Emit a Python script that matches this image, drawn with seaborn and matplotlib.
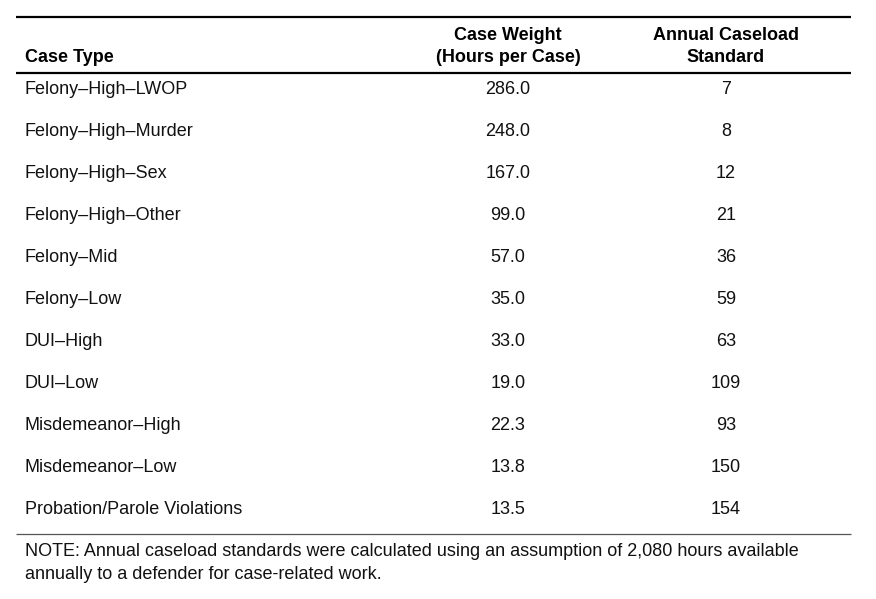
import matplotlib
matplotlib.use('Agg')
import matplotlib.pyplot as plt
import seaborn as sns

case_types = ['Felony–High–LWOP', 'Felony–High–Murder', 'Felony–High–Sex',
              'Felony–High–Other', 'Felony–Mid', 'Felony–Low', 'DUI–High',
              'DUI–Low', 'Misdemeanor–High', 'Misdemeanor–Low',
              'Probation/Parole Violations']
case_weights = [286.0, 248.0, 167.0, 99.0, 57.0, 35.0, 33.0, 19.0, 22.3, 13.8, 13.5]
caseload_standards = [7, 8, 12, 21, 36, 59, 63, 109, 93, 150, 154]
headers = ['Case Type', 'Case Weight\n(Hours per Case)', 'Annual Caseload\nStandard']
note = ('NOTE: Annual caseload standards were calculated using an assumption of 2,080 hours available\n'
        'annually to a defender for case-related work.')

sns.set_theme(style='white')
plt.rcParams['font.family'] = ['Liberation Sans', 'DejaVu Sans']
plt.rcParams['text.color'] = 'black'

fig = plt.figure(figsize=(8.76, 5.99), dpi=100)
ax = fig.add_axes([0, 0, 1, 1])
ax.set_xlim(0, 876)
ax.set_ylim(599, 0)
ax.axis('off')

fs = 13
x_type, x_weight, x_std = 25, 508, 726
line_x0, line_x1 = 16, 851

# rules
ax.plot([line_x0, line_x1], [17, 17], color='black', lw=1.6, solid_capstyle='butt')
ax.plot([line_x0, line_x1], [73, 73], color='black', lw=1.6, solid_capstyle='butt')
ax.plot([line_x0, line_x1], [534, 534], color='#555555', lw=0.9, solid_capstyle='butt')

# header
ax.text(x_type, 62, headers[0], ha='left', va='baseline', fontsize=fs, fontweight='bold')
ax.text(x_weight, 62, headers[1], ha='center', va='baseline', fontsize=fs,
        fontweight='bold', linespacing=1.38, multialignment='center')
ax.text(x_std, 62, headers[2], ha='center', va='baseline', fontsize=fs,
        fontweight='bold', linespacing=1.38, multialignment='center')

# rows
for i, (name, w, s) in enumerate(zip(case_types, case_weights, caseload_standards)):
    y = 94 + 42 * i
    ax.text(x_type, y, name, ha='left', va='baseline', fontsize=fs, color='#111111')
    ax.text(x_weight, y, f'{w:.1f}', ha='center', va='baseline', fontsize=fs, color='#111111')
    ax.text(x_std, y, f'{s}', ha='center', va='baseline', fontsize=fs, color='#111111')

ax.text(x_type, 579, note, ha='left', va='baseline', fontsize=fs, linespacing=1.5,
        color='#111111')

plt.savefig('out.png', dpi=100)
plt.close()
